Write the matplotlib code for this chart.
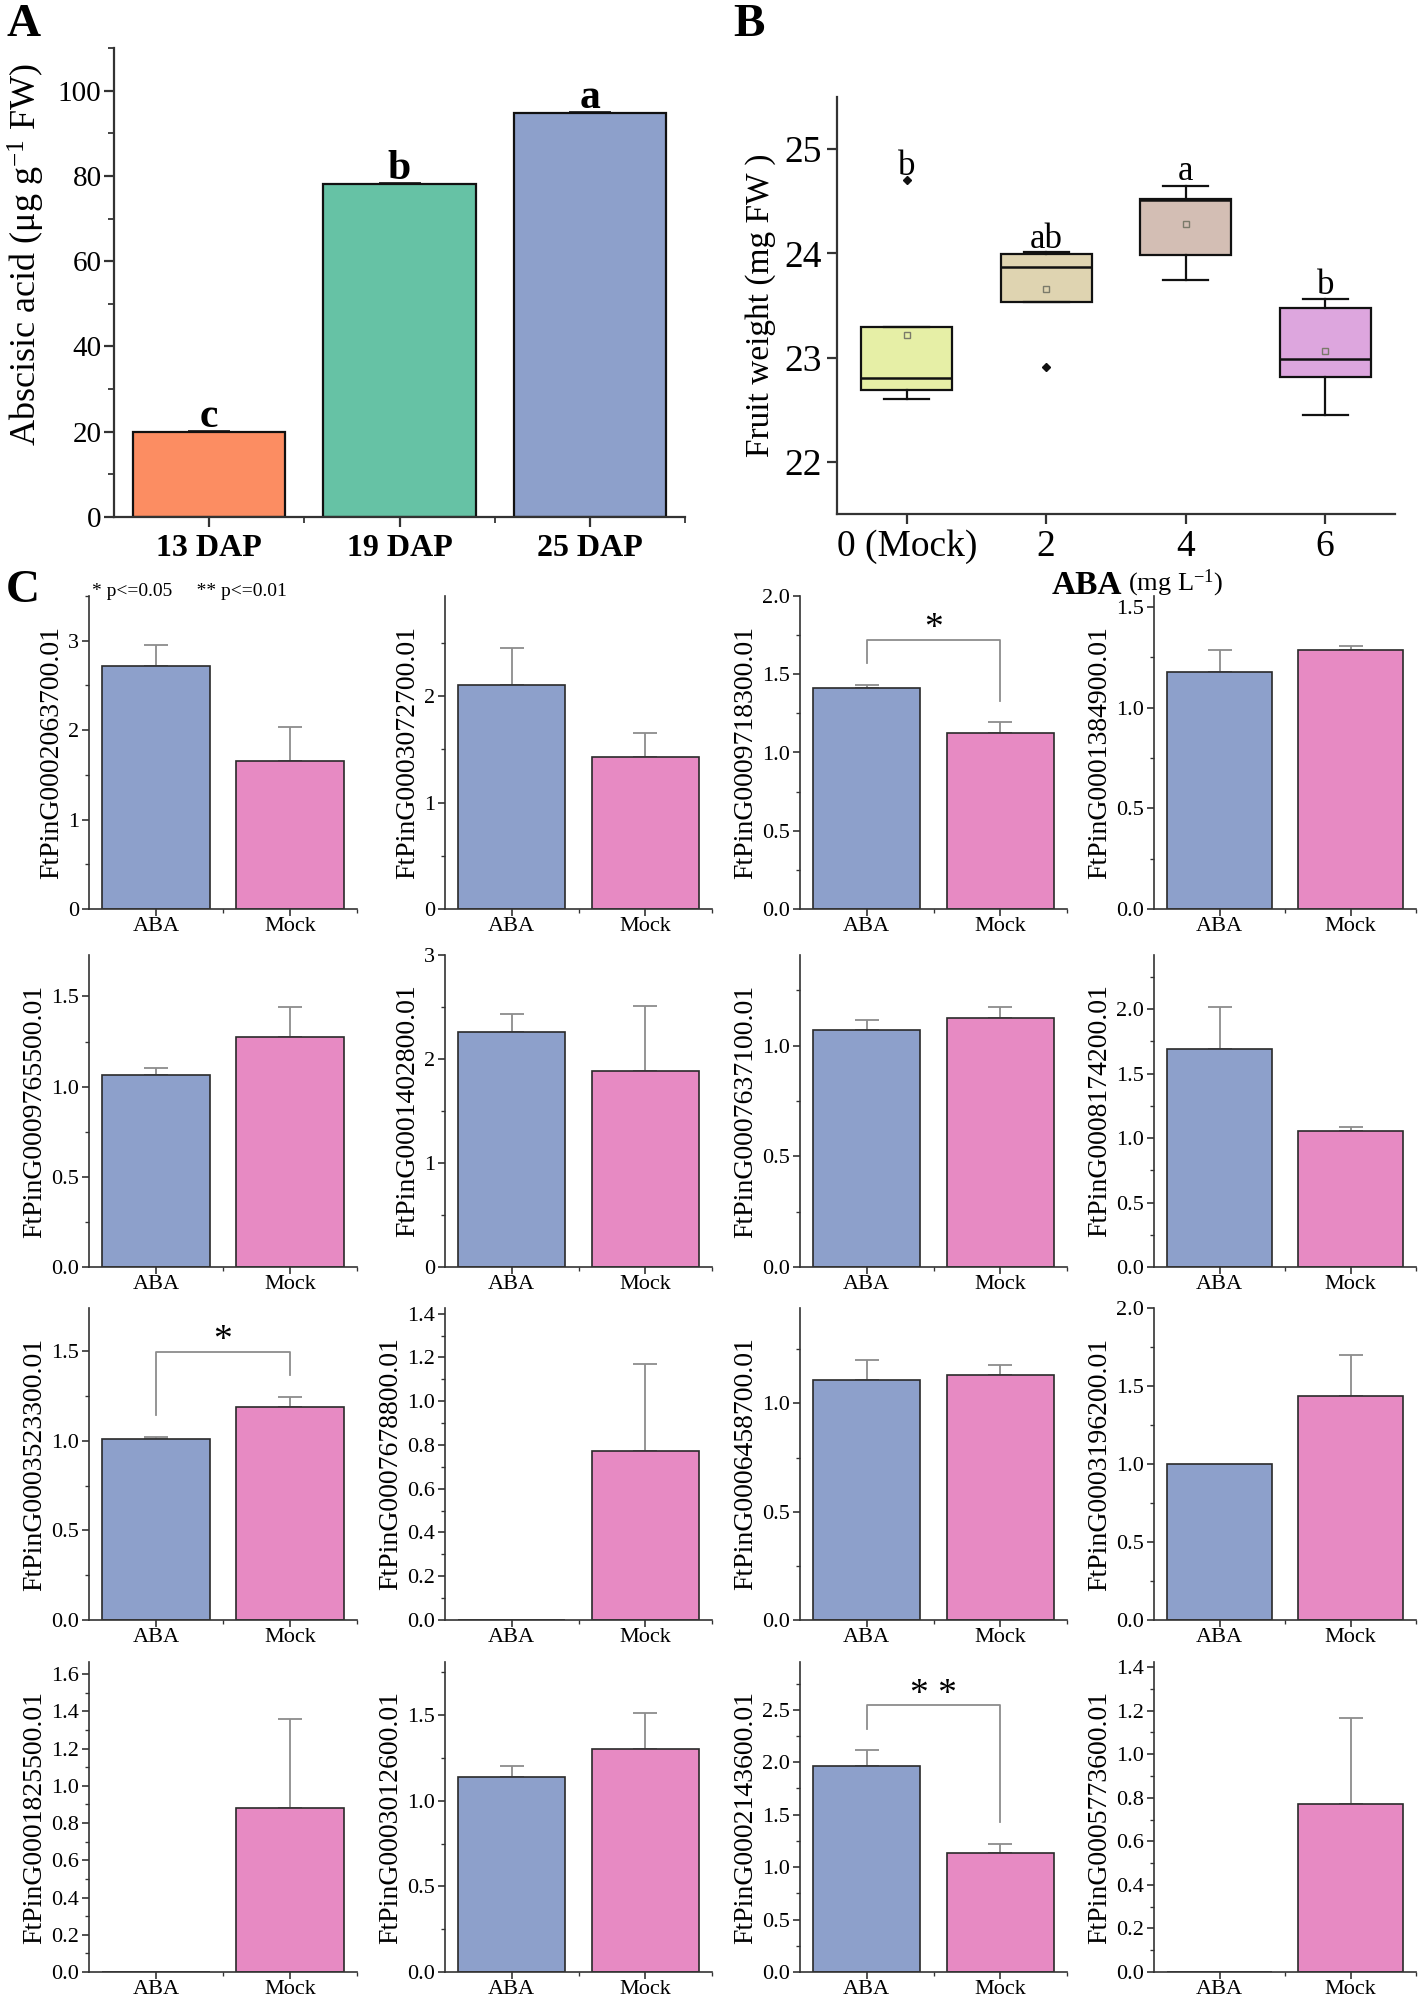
import matplotlib
matplotlib.use("Agg")
import matplotlib.pyplot as plt
from matplotlib.ticker import MultipleLocator, FixedLocator, FormatStrFormatter

plt.rcParams["font.family"] = ["Liberation Serif", "DejaVu Serif"]
plt.rcParams["mathtext.fontset"] = "custom"
plt.rcParams["mathtext.rm"] = "Liberation Serif"
plt.rcParams["mathtext.it"] = "Liberation Serif:italic"
plt.rcParams["mathtext.bf"] = "Liberation Serif:bold"

# ---- panel A data
A_CATEGORIES = ["13 DAP", "19 DAP", "25 DAP"]
A_VALUES = [20.0, 78.2, 94.8]
A_ERRORS = [0.25, 0.25, 0.25]
A_LETTERS = ["c", "b", "a"]
A_COLORS = ["#FC8D62", "#66C2A5", "#8DA0CB"]

# ---- panel B data (box statistics)
B_DOSES = [0, 2, 4, 6]
B_LABELS = ["0 (Mock)", "2", "4", "6"]
B_Q1 = [22.69, 23.53, 23.98, 22.81]
B_MEDIAN = [22.80, 23.87, 24.51, 22.99]
B_Q3 = [23.29, 23.99, 24.52, 23.48]
B_WHISKER_LO = [22.60, 23.53, 23.74, 22.45]
B_WHISKER_HI = [23.29, 24.01, 24.65, 23.56]
B_MEAN = [23.22, 23.66, 24.28, 23.06]
B_OUTLIERS = [[24.70], [22.91], [], []]
B_LETTERS = ["b", "ab", "a", "b"]
B_LETTER_Y = [24.75, 24.05, 24.70, 23.61]
B_COLORS = ["#E6EFA6", "#DFD4B1", "#D3BEB4", "#DDA6DE"]

# ---- panel C data (ABA vs Mock)
C_GROUPS = ["ABA", "Mock"]
C_GENES = [
    "FtPinG0002063700.01", "FtPinG0003072700.01", "FtPinG0009718300.01", "FtPinG0001384900.01",
    "FtPinG0009765500.01", "FtPinG0001402800.01", "FtPinG0007637100.01", "FtPinG0008174200.01",
    "FtPinG0003523300.01", "FtPinG0007678800.01", "FtPinG0006458700.01", "FtPinG0003196200.01",
    "FtPinG0001825500.01", "FtPinG0003012600.01", "FtPinG0002143600.01", "FtPinG0005773600.01",
]
C_ABA = [2.72, 2.10, 1.414, 1.177, 1.066, 2.264, 1.069, 1.694,
         1.01, 0.0, 1.107, 1.003, 0.0, 1.136, 1.965, 0.0]
C_ABA_ERR = [0.235, 0.355, 0.017, 0.11, 0.035, 0.17, 0.045, 0.32,
             0.01, 0.0, 0.094, 0.0, 0.0, 0.065, 0.148, 0.0]
C_MOCK = [1.657, 1.429, 1.122, 1.287, 1.274, 1.88, 1.126, 1.055,
          1.19, 0.772, 1.129, 1.434, 0.879, 1.30, 1.135, 0.773]
C_MOCK_ERR = [0.383, 0.22, 0.07, 0.018, 0.165, 0.627, 0.05, 0.029,
              0.054, 0.399, 0.047, 0.263, 0.478, 0.21, 0.085, 0.395]
C_YMAX = [3.5, 2.94, 2.0, 1.555, 1.73, 3.0, 1.41, 2.42,
          1.74, 1.426, 1.44, 2.0, 1.665, 1.81, 2.956, 1.423]
C_YSTEP = [1, 1, 0.5, 0.5, 0.5, 1, 0.5, 0.5,
           0.5, 0.2, 0.5, 0.5, 0.2, 0.5, 0.5, 0.2]
C_SIGNIF = ["", "", "*", "", "", "", "", "",
            "*", "", "", "", "", "", "**", ""]

W, H = 1418, 2001
AXIS_COLOR = "#333333"


def rect(left, top, right, bottom):
    return [left / W, 1 - bottom / H, (right - left) / W, (bottom - top) / H]


def style_axes(ax, lw=1.3, major_len=6, minor_len=3.5):
    for side in ("top", "right"):
        ax.spines[side].set_visible(False)
    for side in ("left", "bottom"):
        ax.spines[side].set_linewidth(lw)
        ax.spines[side].set_color(AXIS_COLOR)
    ax.tick_params(which="major", direction="out", color=AXIS_COLOR, width=lw, length=major_len)
    ax.tick_params(which="minor", direction="out", color=AXIS_COLOR, width=lw * 0.8, length=minor_len)


fig = plt.figure(figsize=(W / 100, H / 100), dpi=100)

# ================= panel A
axA = fig.add_axes(rect(114, 48, 685, 517))
xa = [1, 2, 3]
axA.bar(xa, A_VALUES, width=0.8, color=A_COLORS, edgecolor="#111111", linewidth=1.6, zorder=2)
axA.errorbar(xa, A_VALUES, yerr=[[0] * 3, A_ERRORS], fmt="none", ecolor="#111111",
             elinewidth=1.2, capsize=15, capthick=1.2, zorder=3)
axA.set_xlim(0.5, 3.5)
axA.set_ylim(0, 110)
axA.yaxis.set_major_locator(FixedLocator([0, 20, 40, 60, 80, 100]))
axA.yaxis.set_minor_locator(FixedLocator([10, 30, 50, 70, 90, 110]))
axA.set_xticks(xa)
axA.set_xticklabels(A_CATEGORIES, fontweight="bold", fontsize=23)
axA.xaxis.set_minor_locator(FixedLocator([1.5, 2.5, 3.5]))
style_axes(axA, lw=1.6, major_len=7, minor_len=4)
axA.tick_params(axis="y", labelsize=21, pad=2)
axA.tick_params(axis="x", pad=5)
axA.set_ylabel(r"Abscisic acid ($\mathrm{\mu}$g g$^{-1}$ FW)", fontsize=26)
axA.yaxis.set_label_coords(-0.118, 0.56)
for xi, v, e, letter in zip(xa, A_VALUES, A_ERRORS, A_LETTERS):
    axA.text(xi, v + e + 0.9, letter, ha="center", va="baseline", fontsize=30, fontweight="bold")

# ================= panel B
axB = fig.add_axes(rect(837, 97, 1395, 514))
stats = []
for i in range(len(B_DOSES)):
    stats.append(dict(med=B_MEDIAN[i], q1=B_Q1[i], q3=B_Q3[i], whislo=B_WHISKER_LO[i],
                      whishi=B_WHISKER_HI[i], mean=B_MEAN[i], fliers=B_OUTLIERS[i]))
parts = axB.bxp(stats, positions=B_DOSES, widths=1.3, capwidths=0.65, showmeans=True, patch_artist=True,
                boxprops=dict(edgecolor="#111111", linewidth=1.6),
                medianprops=dict(color="#111111", linewidth=1.8),
                whiskerprops=dict(color="#111111", linewidth=1.6),
                capprops=dict(color="#111111", linewidth=1.6),
                meanprops=dict(marker="s", markerfacecolor="none", markeredgecolor="#7a7a6a",
                               markersize=4.5, markeredgewidth=1.0),
                flierprops=dict(marker="D", markerfacecolor="#111111", markeredgecolor="#111111",
                                markersize=4))
for patch, color in zip(parts["boxes"], B_COLORS):
    patch.set_facecolor(color)
axB.set_xlim(-1, 7)
axB.set_ylim(21.5, 25.5)
axB.set_xticks(B_DOSES)
axB.set_xticklabels(B_LABELS)
axB.yaxis.set_major_locator(FixedLocator([22, 23, 24, 25]))
style_axes(axB, lw=1.6, major_len=7)
axB.tick_params(labelsize=27, pad=4)
axB.set_ylabel("Fruit weight (mg FW )", fontsize=24, labelpad=6)
for xb, yb, letter in zip(B_DOSES, B_LETTER_Y, B_LETTERS):
    axB.text(xb, yb, letter, ha="center", va="baseline", fontsize=25)
fig.text(1122 / W, 1 - 586 / H, "ABA", fontsize=24, fontweight="bold", ha="right", va="center")
fig.text(1128 / W, 1 - 583 / H, r"(mg L$^{-1}$)", fontsize=19, ha="left", va="center")

# ================= panel C
col_left = [89, 445, 800, 1154]
col_right = [357, 712, 1067, 1416]
row_top = [596, 955, 1308, 1662]
row_bottom = [909, 1267, 1620, 1972]
xc = [0, 1]
for k, gene in enumerate(C_GENES):
    r, c = divmod(k, 4)
    ax = fig.add_axes(rect(col_left[c], row_top[r], col_right[c], row_bottom[r]))
    vals = [C_ABA[k], C_MOCK[k]]
    errs = [C_ABA_ERR[k], C_MOCK_ERR[k]]
    ax.bar(xc, vals, width=0.8, color=["#8DA0CB", "#E78AC3"], edgecolor="#2a2a2a", linewidth=1.2, zorder=2)
    for xi, v, e in zip(xc, vals, errs):
        if e > 0:
            ax.errorbar([xi], [v], yerr=[[0], [e]], fmt="none", ecolor="#8c8c8c",
                        elinewidth=1.3, capsize=8.5, capthick=1.3, zorder=1)
    ymax = C_YMAX[k]
    step = C_YSTEP[k]
    ax.set_xlim(-0.5, 1.5)
    ax.set_ylim(0, ymax)
    ax.yaxis.set_major_locator(MultipleLocator(step))
    ax.yaxis.set_minor_locator(MultipleLocator(step / 2))
    ax.yaxis.set_major_formatter(FormatStrFormatter("%d" if step == 1 else "%.1f"))
    ax.set_xticks(xc)
    ax.set_xticklabels(C_GROUPS)
    ax.xaxis.set_minor_locator(FixedLocator([0.5, 1.5]))
    style_axes(ax, lw=1.2, major_len=5, minor_len=3)
    ax.tick_params(labelsize=16, pad=2)
    ax.tick_params(axis="x", pad=1)
    ax.set_ylabel(gene, fontsize=20, labelpad=3)
    sig = C_SIGNIF[k]
    if sig:
        tops = [v + e for v, e in zip(vals, errs)]
        gap = 0.07 * ymax
        level = max(tops) + 0.145 * ymax
        ax.plot([0, 0, 1, 1], [tops[0] + gap, level, level, tops[1] + gap],
                color="#8c8c8c", linewidth=1.3, zorder=1)
        ax.text(0.5, level + 0.035 * ymax, " ".join(sig), ha="center", va="center", fontsize=27)

fig.text(92 / W, 1 - 592 / H, "* p<=0.05     ** p<=0.01", fontsize=14, ha="left", va="center")

# ---- panel letters
fig.text(6 / W, 1 - 4 / H, "A", fontsize=34, fontweight="bold", ha="left", va="top")
fig.text(733 / W, 1 - 4 / H, "B", fontsize=34, fontweight="bold", ha="left", va="top")
fig.text(6 / W, 1 - 570 / H, "C", fontsize=34, fontweight="bold", ha="left", va="top")

fig.savefig("out.png", dpi=100, facecolor="white")
plt.close(fig)
